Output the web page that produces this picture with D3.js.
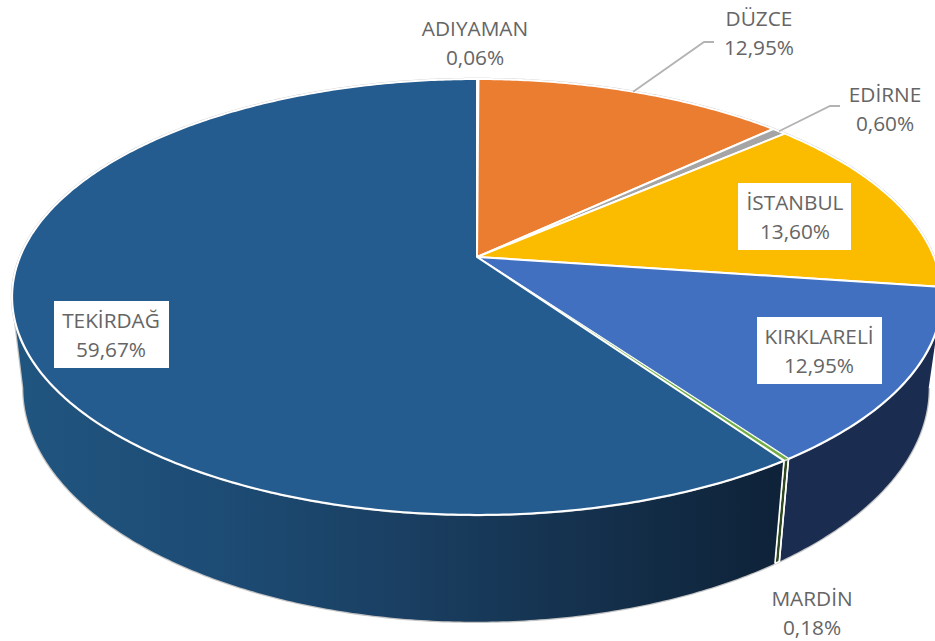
<!DOCTYPE html>
<html>
<head>
<meta charset="utf-8">
<script src="https://cdn.jsdelivr.net/npm/d3@7/dist/d3.min.js"></script>
<style>
html,body{margin:0;padding:0;background:#fff}
svg{display:block}
text{font-family:"Open Sans","Noto Sans",sans-serif;fill:#656565}
</style>
</head>
<body>
<svg id="c" width="935" height="641"></svg>
<script>
const categories = ["ADIYAMAN","DÜZCE","EDİRNE","İSTANBUL","KIRKLARELİ","MARDİN","TEKİRDAĞ"];
const shares = [0.06,12.95,0.60,13.60,12.95,0.18,59.67];
const shareLabels = ["0,06%","12,95%","0,60%","13,60%","12,95%","0,18%","59,67%"];
const topColors = ["#5b9bd5","#eb7d31","#a5a5a5","#fbbc00","#4170c0","#70ad47","#255c8f"];
const wallColors = ["#264478","#8a4a1c","#636363","#997300","#1a2c50","#2f4a20","#0e2338"];

// projection of the unit disc (perspective) for the top and bottom face
const topFace={ax:477,ay:257,a:457,b:210.6,k:0.1834};
const botFace={ax:476,ay:345,a:445,b:226,k:0.1834};
const project=(f,ang)=>{
  const u=Math.sin(ang),v=Math.cos(ang),d=1+f.k*v;
  return [f.ax+f.a*u/d,f.ay-f.b*v/d];
};
const arcPts=(f,a0,a1)=>{
  const n=Math.max(2,Math.ceil(Math.abs(a1-a0)/0.01));
  return d3.range(n+1).map(i=>project(f,a0+(a1-a0)*i/n));
};
const line=d3.line();
const svg=d3.select("#c");
const pie=d3.pie().sort(null).value(d=>d);
const arcs=pie(shares);

const defs=svg.append("defs");
const g=defs.append("linearGradient").attr("id","wallG").attr("gradientUnits","userSpaceOnUse")
 .attr("x1",20).attr("x2",785).attr("y1",0).attr("y2",0);
[[0,"#20557f"],[0.25,"#1d4c75"],[0.5,"#1a3f62"],[0.75,"#14304c"],[1,"#0e2238"]].forEach(s=>g.append("stop").attr("offset",s[0]).attr("stop-color",s[1]));

// walls span the silhouette angles, where cos(angle) = -k
const wallMin=Math.acos(-topFace.k), wallMax=2*Math.PI-wallMin;
const walls=svg.append("g");
svg.append("path").attr("d",line(arcPts(botFace,wallMin,wallMax)))
  .attr("fill","none").attr("stroke","#c4c4c4").attr("stroke-width",2.5);
svg.append("path").attr("d",line([project(topFace,wallMax),project(botFace,wallMax)]))
  .attr("fill","none").attr("stroke","#c4c4c4").attr("stroke-width",2.5);
arcs.forEach((d,i)=>{
  const a0=Math.max(d.startAngle,wallMin),a1=Math.min(d.endAngle,wallMax);
  if(a1<=a0)return;
  const pts=arcPts(topFace,a0,a1).concat(arcPts(botFace,a1,a0));
  walls.append("path").attr("d",line(pts)+"Z")
    .attr("fill",i===6?"url(#wallG)":wallColors[i])
    .attr("stroke",i===6||i===4?"none":"#fff").attr("stroke-width",1.5);
});
walls.raise();

// white edges between wall pieces
[arcs[5].startAngle,arcs[5].endAngle].forEach(a=>{
  svg.append("path").attr("d",line([project(topFace,a),project(botFace,a)]))
    .attr("fill","none").attr("stroke","#fff").attr("stroke-width",1.6);
});

// top faces
svg.append("path").attr("d",line(arcPts(topFace,0,2*Math.PI))+"Z")
  .attr("fill","none").attr("stroke","#c4c4c4").attr("stroke-width",2.5);
const tops=svg.append("g");
arcs.forEach((d,i)=>{
  const pts=[[topFace.ax,topFace.ay]].concat(arcPts(topFace,d.startAngle,d.endAngle));
  tops.append("path").attr("d",line(pts)+"Z").attr("fill",topColors[i])
   .attr("stroke","#fff").attr("stroke-width",i===5?0.8:2).attr("stroke-linejoin","round");
});

// leader lines
const leaders=[{i:1,pts:[[714,42],[704,42]]},{i:2,pts:[[840,106],[830,106]]}];
leaders.forEach(l=>{
  const d=arcs[l.i],e=project(topFace,(d.startAngle+d.endAngle)/2);
  svg.append("path").attr("d",line(l.pts.concat([e]))).attr("fill","none")
    .attr("stroke","#b3b3b3").attr("stroke-width",1.8);
});

// labels
const labelX=[475,759,885,795,819,812,111];
const labelY=[29,19,95,203,337,599,321];
const boxes=[null,null,null,[738,183,113,67],[757,317,125,67],null,[54,301,115,67]];
categories.forEach((c,i)=>{
  if(boxes[i]) svg.append("rect").attr("x",boxes[i][0]).attr("y",boxes[i][1]).attr("width",boxes[i][2]).attr("height",boxes[i][3]).attr("fill","#fff");
  const t=svg.append("text").attr("text-anchor","middle").attr("font-size",20.8);
  t.append("tspan").attr("x",labelX[i]).attr("y",labelY[i]+7.3).text(c);
  t.append("tspan").attr("x",labelX[i]).attr("y",labelY[i]+36.3).text(shareLabels[i]);
});
</script>
</body>
</html>
